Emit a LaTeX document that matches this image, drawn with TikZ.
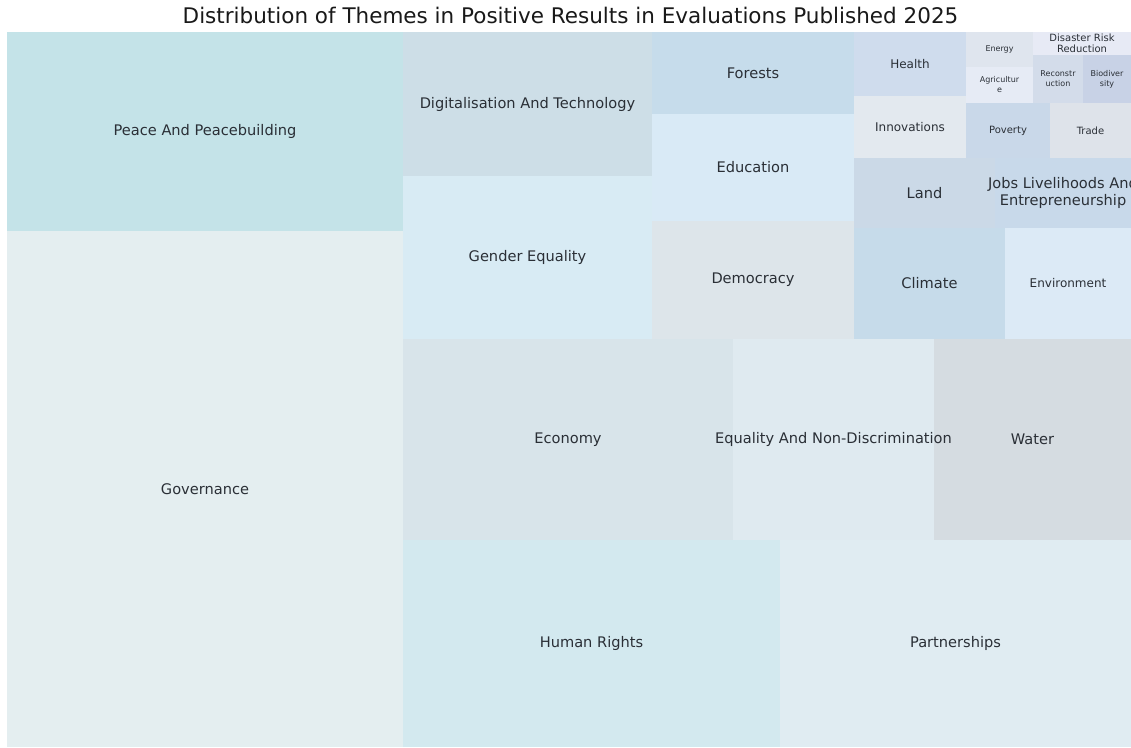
\documentclass[tikz,border=0pt]{standalone}
\usepackage{fontspec}
\setmainfont{DejaVu Sans}

\definecolor{txt}{HTML}{2A2F36}
\definecolor{cPeace}{HTML}{C4E3E8}
\definecolor{cGovernance}{HTML}{E4EEF0}
\definecolor{cDigital}{HTML}{CDDEE7}
\definecolor{cGender}{HTML}{D8EBF4}
\definecolor{cForests}{HTML}{C6DCEB}
\definecolor{cEducation}{HTML}{D9EAF6}
\definecolor{cDemocracy}{HTML}{DDE5EA}
\definecolor{cHealth}{HTML}{CFDCED}
\definecolor{cInnovations}{HTML}{E3E9EF}
\definecolor{cEnergy}{HTML}{DFE5EE}
\definecolor{cAgriculture}{HTML}{E6EBF5}
\definecolor{cDisaster}{HTML}{E7EAF5}
\definecolor{cReconstruction}{HTML}{D3DCEA}
\definecolor{cBiodiversity}{HTML}{C8D2E6}
\definecolor{cPoverty}{HTML}{C9D8E9}
\definecolor{cTrade}{HTML}{DEE3EA}
\definecolor{cLand}{HTML}{CBD9E7}
\definecolor{cJobs}{HTML}{C8D9EA}
\definecolor{cClimate}{HTML}{C6DBEA}
\definecolor{cEnvironment}{HTML}{DCEAF6}
\definecolor{cEconomy}{HTML}{D8E4EA}
\definecolor{cEquality}{HTML}{DFEAF0}
\definecolor{cWater}{HTML}{D5DCE1}
\definecolor{cHumanRights}{HTML}{D3E9EF}
\definecolor{cPartnerships}{HTML}{E0ECF2}

\begin{document}
\begin{tikzpicture}[x=1pt,y=-1pt,
    lbl/.style={text=txt,align=center,inner sep=0pt,font=\fontsize{14.6}{17.5}\selectfont},
    midlbl/.style={lbl,font=\fontsize{12}{14}\selectfont},
    smalllbl/.style={lbl,font=\fontsize{10}{11}\selectfont},
    tinylbl/.style={lbl,font=\fontsize{8}{10}\selectfont}]
        \useasboundingbox (0,0) rectangle (1131,747);
        \fill[white] (0,0) rectangle (1131,747);
        \node[text=black!90,inner sep=0pt,anchor=base,font=\fontsize{21.5}{25}\selectfont] (title) at (570.5,23) {Distribution of Themes in Positive Results in Evaluations Published 2025};
        % left column
        \fill[cPeace] (7,32) rectangle (403,231);
        \node[lbl] (peace) at (205,131) {Peace And Peacebuilding};
        \fill[cGovernance] (7,231) rectangle (403,747);
        \node[lbl] (governance) at (205,489) {Governance};
        % upper middle
        \fill[cDigital] (403,32) rectangle (652,176);
        \node[lbl] (digital) at (527.5,104) {Digitalisation And Technology};
        \fill[cGender] (403,176) rectangle (652,339);
        \node[lbl] (gender) at (527.5,257.5) {Gender Equality};
        \fill[cForests] (652,32) rectangle (854,114);
        \node[lbl] (forests) at (753,73) {Forests};
        \fill[cEducation] (652,114) rectangle (854,221);
        \node[lbl] (education) at (753,167.5) {Education};
        \fill[cDemocracy] (652,221) rectangle (854,339);
        \node[lbl] (democracy) at (753,280) {Democracy};
        % upper right
        \fill[cHealth] (854,32) rectangle (966,96);
        \node[midlbl] (health) at (910,64) {Health};
        \fill[cInnovations] (854,96) rectangle (966,158);
        \node[midlbl] (innovations) at (910,127) {Innovations};
        \fill[cEnergy] (966,32) rectangle (1033,67);
        \node[tinylbl] (energy) at (999.5,49.5) {Energy};
        \fill[cAgriculture] (966,67) rectangle (1033,103);
        \node[tinylbl] (agriculture) at (999.5,85) {Agricultur\\e};
        \fill[cDisaster] (1033,32) rectangle (1131,55);
        \node[smalllbl] (disaster) at (1082,43.5) {Disaster Risk\\Reduction};
        \fill[cReconstruction] (1033,55) rectangle (1083,103);
        \node[tinylbl] (reconstruction) at (1058,79) {Reconstr\\uction};
        \fill[cBiodiversity] (1083,55) rectangle (1131,103);
        \node[tinylbl] (biodiversity) at (1107,79) {Biodiver\\sity};
        \fill[cPoverty] (966,103) rectangle (1050,158);
        \node[smalllbl] (poverty) at (1008,130.5) {Poverty};
        \fill[cTrade] (1050,103) rectangle (1131,158);
        \node[smalllbl] (trade) at (1090.5,130.5) {Trade};
        \fill[cLand] (854,158) rectangle (995,228);
        \node[lbl] (land) at (924.5,193) {Land};
        \fill[cJobs] (995,158) rectangle (1131,228);
        \node[lbl] (jobs) at (1063,193) {Jobs Livelihoods And\\Entrepreneurship};
        \fill[cClimate] (854,228) rectangle (1005,339);
        \node[lbl] (climate) at (929.5,283.5) {Climate};
        \fill[cEnvironment] (1005,228) rectangle (1131,339);
        \node[midlbl] (environment) at (1068,283.5) {Environment};
        % lower middle and right
        \fill[cEconomy] (403,339) rectangle (733,540);
        \node[lbl] (economy) at (568,439.5) {Economy};
        \fill[cEquality] (733,339) rectangle (934,540);
        \fill[cWater] (934,339) rectangle (1131,540);
        \node[lbl] (equality) at (833.5,439.5) {Equality And Non-Discrimination};
        \node[lbl] (water) at (1032.5,439.5) {Water};
        \fill[cHumanRights] (403,540) rectangle (780,747);
        \node[lbl] (humanrights) at (591.5,643.5) {Human Rights};
        \fill[cPartnerships] (780,540) rectangle (1131,747);
        \node[lbl] (partnerships) at (955.5,643.5) {Partnerships};
    \end{tikzpicture}
\end{document}
